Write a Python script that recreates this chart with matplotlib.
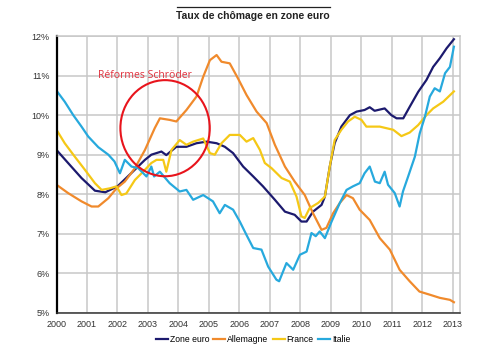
import matplotlib as mpl
import matplotlib.pyplot as plt
from matplotlib.lines import Line2D
from matplotlib.patches import Ellipse

mpl.rcParams.update({
    'figure.dpi': 100,
    'figure.figsize': (5, 3.5),
    'font.family': ['Liberation Sans', 'DejaVu Sans'],
})

# Series (year, % unemployment)
euro_t = [2000.0, 2000.38, 2000.82, 2001.26, 2001.6, 2002.0, 2002.5, 2002.9, 2003.11, 2003.44,
          2003.6, 2003.93, 2004.26, 2004.59, 2004.92, 2005.25, 2005.52, 2005.79, 2006.12, 2006.45,
          2006.77, 2007.16, 2007.49, 2007.81, 2008.03, 2008.2, 2008.41, 2008.69, 2008.8, 2008.96,
          2009.12, 2009.34, 2009.62, 2009.84, 2010.1, 2010.27, 2010.43, 2010.76, 2010.98, 2011.15,
          2011.37, 2011.58, 2011.86, 2012.13, 2012.35, 2012.57, 2012.79, 2013.03]
euro_v = [9.12, 8.79, 8.41, 8.09, 8.05, 8.2, 8.57, 8.87, 9.0, 9.08,
          8.99, 9.2, 9.2, 9.29, 9.33, 9.29, 9.2, 9.04, 8.7, 8.45,
          8.2, 7.86, 7.56, 7.48, 7.31, 7.31, 7.56, 7.73, 7.94, 8.7,
          9.29, 9.71, 10.0, 10.09, 10.13, 10.2, 10.11, 10.17, 10.0, 9.92,
          9.92, 10.21, 10.59, 10.89, 11.22, 11.44, 11.69, 11.92]

de_t = [2000.0, 2000.38, 2000.82, 2001.15, 2001.37, 2001.7, 2001.97, 2002.24, 2002.57, 2002.9,
        2003.22, 2003.39, 2003.71, 2003.93, 2004.26, 2004.59, 2004.81, 2005.03, 2005.25, 2005.41,
        2005.68, 2005.95, 2006.23, 2006.56, 2006.89, 2007.16, 2007.49, 2007.81, 2008.14, 2008.41,
        2008.69, 2008.85, 2009.07, 2009.29, 2009.51, 2009.72, 2009.94, 2010.27, 2010.6, 2010.93,
        2011.25, 2011.58, 2011.9, 2012.24, 2012.57, 2012.9, 2013.03]
de_v = [8.24, 8.03, 7.82, 7.69, 7.69, 7.9, 8.15, 8.32, 8.66, 9.12,
        9.67, 9.92, 9.88, 9.84, 10.13, 10.47, 10.97, 11.39, 11.52, 11.35,
        11.31, 10.93, 10.51, 10.09, 9.8, 9.25, 8.7, 8.32, 7.98, 7.52,
        7.1, 7.15, 7.52, 7.78, 7.98, 7.9, 7.61, 7.35, 6.89, 6.6,
        6.09, 5.8, 5.54, 5.46, 5.38, 5.33, 5.27]

fr_t = [2000.0, 2000.27, 2000.6, 2000.93, 2001.26, 2001.48, 2001.75, 2001.97, 2002.13, 2002.29,
        2002.57, 2002.84, 2003.11, 2003.28, 2003.5, 2003.6, 2003.77, 2004.04, 2004.26, 2004.48,
        2004.81, 2005.03, 2005.19, 2005.41, 2005.68, 2006.01, 2006.23, 2006.45, 2006.67, 2006.83,
        2007.05, 2007.38, 2007.65, 2007.87, 2008.03, 2008.14, 2008.3, 2008.58, 2008.8, 2008.96,
        2009.12, 2009.34, 2009.56, 2009.78, 2010.0, 2010.16, 2010.6, 2011.04, 2011.31, 2011.58,
        2011.86, 2012.13, 2012.35, 2012.68, 2013.03]
fr_v = [9.63, 9.29, 8.95, 8.62, 8.28, 8.11, 8.15, 8.2, 7.98, 8.02,
        8.36, 8.57, 8.79, 8.87, 8.87, 8.57, 9.12, 9.37, 9.25, 9.33,
        9.41, 9.04, 9.0, 9.29, 9.5, 9.5, 9.33, 9.42, 9.12, 8.79,
        8.66, 8.41, 8.32, 7.94, 7.44, 7.4, 7.65, 7.78, 7.94, 8.7,
        9.37, 9.63, 9.84, 9.96, 9.88, 9.71, 9.71, 9.63, 9.47, 9.56,
        9.75, 10.0, 10.17, 10.34, 10.6]

it_t = [2000.0, 2000.27, 2000.55, 2000.82, 2001.04, 2001.37, 2001.7, 2001.9, 2002.08, 2002.24,
        2002.46, 2002.68, 2002.95, 2003.11, 2003.2, 2003.39, 2003.71, 2004.04, 2004.26, 2004.48,
        2004.81, 2005.13, 2005.35, 2005.52, 2005.79, 2006.01, 2006.23, 2006.45, 2006.72, 2006.94,
        2007.21, 2007.3, 2007.54, 2007.76, 2007.98, 2008.2, 2008.36, 2008.5, 2008.63, 2008.8,
        2009.02, 2009.29, 2009.51, 2009.72, 2009.94, 2010.1, 2010.27, 2010.44, 2010.6, 2010.76,
        2010.87, 2011.09, 2011.25, 2011.36, 2011.53, 2011.75, 2011.91, 2012.08, 2012.24, 2012.4,
        2012.57, 2012.74, 2012.9, 2013.03]
it_v = [10.62, 10.34, 10.0, 9.71, 9.46, 9.19, 9.0, 8.83, 8.53, 8.87,
        8.7, 8.66, 8.45, 8.7, 8.45, 8.57, 8.28, 8.07, 8.11, 7.86,
        7.98, 7.82, 7.52, 7.73, 7.61, 7.31, 6.97, 6.64, 6.6, 6.17,
        5.84, 5.8, 6.26, 6.09, 6.47, 6.55, 7.02, 6.94, 7.06, 6.89,
        7.31, 7.78, 8.11, 8.2, 8.28, 8.53, 8.7, 8.32, 8.28, 8.57,
        8.24, 8.03, 7.69, 8.07, 8.45, 8.95, 9.54, 9.96, 10.47, 10.68,
        10.6, 11.06, 11.22, 11.73]

years = list(range(2000, 2014))
pcts = list(range(5, 13))

f = plt.figure()
ax = f.add_axes([0.113, 0.106, 0.807, 0.791])

ax.plot(euro_t, euro_v, color='#1c1a6e', lw=1.6, label='Zone euro')
ax.plot(de_t, de_v, color='#f08a2c', lw=1.6, label='Allemagne')
ax.plot(fr_t, fr_v, color='#f5c816', lw=1.6, label='France')
ax.plot(it_t, it_v, color='#27a9dd', lw=1.6, label='Italie')

# red circle + annotation
ax.add_patch(Ellipse((2003.56, 9.67), 2.93, 2.43, fill=False, color='#e8141c', lw=1.5, zorder=5))
ax.text(2002.9, 11.0, 'Réformes Schröder', color='#e0303c', fontsize=7.5,
        ha='center', va='center', family=['Open Sans', 'DejaVu Sans'])

ax.set_xlim(2000, 2013.23)
ax.set_ylim(5, 12)
ax.set_xticks(years)
ax.set_yticks(pcts)
ax.set_yticklabels(['{}%'.format(p) for p in pcts])
ax.grid(True, color='#c8c8c8', lw=1.1)
ax.set_axisbelow(True)
ax.tick_params(length=0, labelsize=6.5, labelcolor='#333333', pad=5)
for s in ['top', 'right']:
    ax.spines[s].set_color('#c8c8c8')
    ax.spines[s].set_linewidth(1.1)
ax.spines['left'].set_color('black')
ax.spines['left'].set_linewidth(1.6)
ax.spines['bottom'].set_color('#333333')
ax.spines['bottom'].set_linewidth(1.1)

f.legend(loc='center', bbox_to_anchor=(0.506, 0.03), ncol=4, frameon=False,
         fontsize=6.2, handlelength=1.4, handletextpad=0.2, columnspacing=0.5,
         borderpad=0)

f.text(0.506, 0.954, 'Taux de chômage en zone euro', ha='center', va='center',
       fontsize=7.5, fontweight='bold', color='#222222')
f.add_artist(Line2D([0.354, 0.66], [0.979, 0.979], color='#222222', lw=0.9))

f.savefig('out.png')
